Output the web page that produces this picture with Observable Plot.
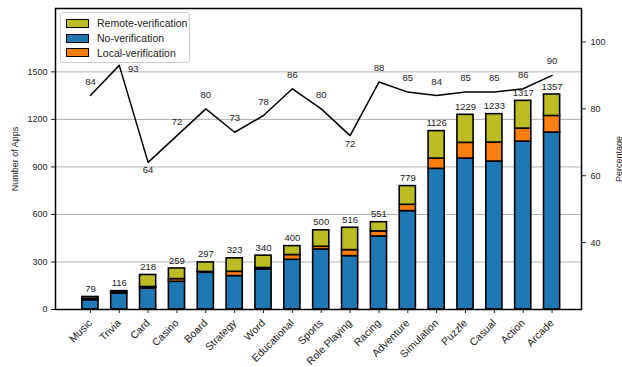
<!DOCTYPE html>
<html><head><meta charset="utf-8">
<script src="https://cdn.jsdelivr.net/npm/d3@7"></script>
<script src="https://cdn.jsdelivr.net/npm/@observablehq/plot@0.6"></script>
<style>
body{margin:0;background:#fff}
#wrap{position:relative;width:622px;height:367px;font-family:"Liberation Sans",Arial,sans-serif}
#wrap svg{overflow:visible}
#legend{position:absolute;left:60px;top:12px;width:128px;padding:3px 0 2px 0;border:1px solid #cccccc;border-radius:3px;background:rgba(255,255,255,0.85);font-size:10.5px;color:#222}
#legend .row{display:flex;align-items:center;height:14.7px;padding-left:5px}
#legend .sw{width:21px;height:7px;border:1.5px solid #000;margin-right:8px}
</style>
</head><body><div id="wrap"></div>
<script>
const categories = ["Music","Trivia","Card","Casino","Board","Strategy","Word","Educational","Sports","Role Playing","Racing","Adventure","Simulation","Puzzle","Casual","Action","Arcade"];
const noVerification     = [59, 101, 132, 175, 232, 211, 252, 314, 379, 337, 461, 621, 888, 953, 934, 1060, 1117];
const localVerification  = [8, 5, 10, 17, 5, 27, 10, 30, 17, 38, 32, 40, 65, 99, 120, 82, 105];
const remoteVerification = [12, 10, 76, 67, 60, 85, 78, 56, 104, 141, 58, 118, 173, 177, 179, 175, 135];
const totals     = [79, 116, 218, 259, 297, 323, 340, 400, 500, 516, 551, 779, 1126, 1229, 1233, 1317, 1357];
const percentage = [84, 93, 64, 72, 80, 73, 78, 86, 80, 72, 88, 85, 84, 85, 85, 86, 90];
const leftTicks  = [0, 300, 600, 900, 1200, 1500];
const rightTicks = [40, 60, 80, 100];
const seriesNames  = ["No-verification", "Local-verification", "Remote-verification"];
const seriesColors = ["#1f77b4", "#ff7f0e", "#bcbd22"];
const legendOrder  = ["Remote-verification", "No-verification", "Local-verification"];
const belowLabels  = ["Card", "Role Playing"];
const sideLabels   = ["Trivia"];

const yMax = 1900, pMin = 20, pMax = 110;
const toY = p => (p - pMin) / (pMax - pMin) * yMax;
const fromY = v => v / yMax * (pMax - pMin) + pMin;

const segs = [];
categories.forEach((c, i) => {
  let base = 0;
  [noVerification, localVerification, remoteVerification].forEach((arr, k) => {
    segs.push({i, series: seriesNames[k], y1: base, y2: base + arr[i]});
    base += arr[i];
  });
});
const pts = categories.map((c, i) => ({i, c, p: percentage[i], t: totals[i]}));
const half = 0.28;

const chart = Plot.plot({
  width: 622, height: 367,
  marginLeft: 55, marginRight: 41, marginTop: 8, marginBottom: 58,
  style: {fontFamily: '"Liberation Sans", Arial, sans-serif', background: "white", color: "#222", overflow: "visible"},
  x: {type: "linear", domain: [-1.21, 17.02]},
  y: {domain: [0, yMax]},
  color: {domain: seriesNames, range: seriesColors},
  marks: [
    Plot.gridY(leftTicks, {stroke: "#b0b0b0", strokeOpacity: 1, strokeWidth: 1}),
    Plot.rect(segs, {x1: d => d.i - half, x2: d => d.i + half, y1: "y1", y2: "y2", fill: "series", stroke: "black", strokeWidth: 1.6}),
    Plot.text(pts, {x: "i", y: "t", text: d => String(d.t), dy: -8, fontSize: 9.5, fill: "#222"}),
    Plot.line(pts, {x: "i", y: d => toY(d.p), stroke: "black", strokeWidth: 1.5}),
    Plot.text(pts.filter(d => !belowLabels.includes(d.c) && !sideLabels.includes(d.c)), {x: "i", y: d => toY(d.p), text: d => String(d.p), dy: -14, fontSize: 9.5, fill: "#222"}),
    Plot.text(pts.filter(d => belowLabels.includes(d.c)), {x: "i", y: d => toY(d.p), text: d => String(d.p), dy: 8, fontSize: 9.5, fill: "#222"}),
    Plot.text(pts.filter(d => sideLabels.includes(d.c)), {x: "i", y: d => toY(d.p), text: d => String(d.p), dx: 14, dy: 4, fontSize: 9.5, fill: "#222"}),
    Plot.axisY(leftTicks, {anchor: "left", tickSize: 4, tickPadding: 4, fontSize: 9, tickFormat: v => String(v), label: "Number of Apps", labelAnchor: "center", labelArrow: "none", labelOffset: 44}),
    Plot.axisY(rightTicks.map(toY), {anchor: "right", tickSize: 4, tickPadding: 5, fontSize: 9, tickFormat: v => String(Math.round(fromY(v))), label: "Percentage", labelAnchor: "center", labelArrow: "none", labelOffset: 40}),
    Plot.axisX(d3.range(categories.length), {tickSize: 4, tickFormat: i => categories[i], tickRotate: -45, fontSize: 10.5, label: null}),
    Plot.frame({stroke: "black", strokeWidth: 1.5})
  ]
});
const wrap = document.getElementById("wrap");
wrap.appendChild(chart);

const legend = document.createElement("div");
legend.id = "legend";
legendOrder.forEach(name => {
  const row = document.createElement("div");
  row.className = "row";
  const sw = document.createElement("span");
  sw.className = "sw";
  sw.style.background = seriesColors[seriesNames.indexOf(name)];
  const tx = document.createElement("span");
  tx.textContent = name;
  row.appendChild(sw); row.appendChild(tx);
  legend.appendChild(row);
});
wrap.appendChild(legend);
</script>
</body></html>
